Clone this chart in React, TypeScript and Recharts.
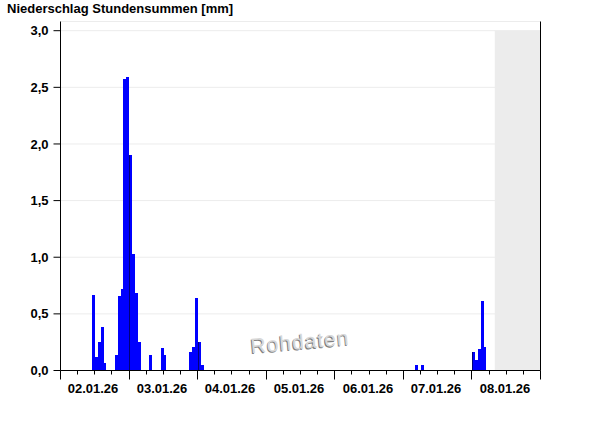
import React from "react";
import {
  BarChart,
  Bar,
  XAxis,
  YAxis,
  CartesianGrid,
  ReferenceArea,
} from "recharts";

const dayLabels = [
  "02.01.26",
  "03.01.26",
  "04.01.26",
  "05.01.26",
  "06.01.26",
  "07.01.26",
  "08.01.26",
];

// hours since 02.01.26 00:00 that had rain, and the hourly sums in mm
const rainHours = [
  11, 12, 13, 14, 15, 19, 20, 21, 22, 23, 24, 25, 26, 27, 31, 35, 36, 45, 46,
  47, 48, 49, 124, 126, 144, 145, 146, 147, 148,
];
const rainMm = [
  0.67, 0.12, 0.25, 0.38, 0.07, 0.14, 0.66, 0.72, 2.57, 2.59, 1.9, 1.03, 0.68,
  0.25, 0.14, 0.2, 0.14, 0.16, 0.21, 0.64, 0.25, 0.05, 0.05, 0.05, 0.16, 0.09,
  0.19, 0.61, 0.21,
];

const yTicks = [0, 0.5, 1, 1.5, 2, 2.5, 3];
const noDataFrom = 152; // grey block: no data yet

const HOURS = dayLabels.length * 24;
const LEFT = 60.5;
const RIGHT = 540.5;
const TOP = 21.5;
const AXIS_Y = 370.5;
const BW = (RIGHT - LEFT) / HOURS;
const Y_MAX = 3 + (30.7 - TOP) / ((AXIS_Y - 30.7) / 3);

const data = Array.from({ length: HOURS }, (_, h) => {
  const i = rainHours.indexOf(h);
  return { h, mm: i >= 0 ? rainMm[i] : 0 };
});

const tickHours = [
  ...Array.from({ length: HOURS / 6 }, (_, i) => i * 6),
  HOURS - 1,
];

const font = '"Liberation Sans", Arial, sans-serif';

function HourTick(props: any) {
  const { x, y, payload } = props;
  const h = payload.value as number;
  const last = h === HOURS - 1;
  const boundary = last ? HOURS : h;
  const xb = Math.floor(last ? x + BW / 2 : x - BW / 2) + 0.5;
  const long = boundary % 24 === 0;
  return (
    <g>
      <line x1={xb} x2={xb} y1={y} y2={y + (long ? 9 : 4)} stroke="#000" />
      {boundary % 24 === 12 && (
        <text
          x={xb - 1.5}
          y={y + 22}
          textAnchor="middle"
          fontSize={13}
          fontWeight="bold"
          fontFamily={font}
          fill="#000"
        >
          {dayLabels[Math.floor(boundary / 24)]}
        </text>
      )}
    </g>
  );
}

// snap bars to whole pixels so neighbouring hours touch without seams
function RainBar(props: any) {
  const { x, y, width, height, index } = props;
  if (!height) return null;
  const x0 = Math.round(x);
  const x1 = Math.round(x + width);
  const y0 = Math.round(y);
  const yb = Math.round(y + height);
  return (
    <g shapeRendering="crispEdges">
      <rect x={x0} y={y0} width={x1 - x0} height={yb - y0} fill="#0000ff" />
      {index % 24 === 0 && (
        <rect x={x0} y={y0} width={1} height={yb - y0} fill="#00007a" />
      )}
    </g>
  );
}

export default function App() {
  return (
    <div
      style={{
        position: "absolute",
        left: 0,
        top: 0,
        width: 600,
        height: 426,
        background: "#fff",
        fontFamily: font,
      }}
    >
      <div
        style={{
          position: "absolute",
          left: 7,
          top: 1,
          fontSize: 13,
          lineHeight: "16px",
          fontWeight: "bold",
          color: "#000",
        }}
      >
        Niederschlag Stundensummen [mm]
      </div>
      <BarChart
        width={600}
        height={426}
        data={data}
        barCategoryGap={0}
        barGap={0}
        margin={{ top: TOP, right: 600 - RIGHT - 1, left: 0, bottom: 426 - AXIS_Y - 30 }}
      >
        <CartesianGrid vertical={false} stroke="#ececec" />
        <ReferenceArea
          x1={noDataFrom}
          x2={HOURS - 1}
          y1={0}
          y2={3}
          fill="#ececec"
          fillOpacity={1}
          stroke="none"
        />
        <XAxis
          dataKey="h"
          ticks={tickHours}
          interval={0}
          tickSize={0}
          tickMargin={0}
          height={30}
          tickLine={false}
          axisLine={{ stroke: "#000" }}
          tick={<HourTick />}
        />
        <YAxis
          domain={[0, Y_MAX]}
          ticks={yTicks}
          width={LEFT}
          tickSize={7}
          tickMargin={5}
          tickFormatter={(v: number) => v.toFixed(1).replace(".", ",")}
          tick={{ fontSize: 13, fontWeight: "bold", fill: "#000", fontFamily: font }}
          tickLine={{ stroke: "#000" }}
          axisLine={{ stroke: "#000" }}
        />
        <YAxis
          yAxisId="r"
          orientation="right"
          width={1}
          tick={false}
          tickLine={false}
          axisLine={{ stroke: "#000" }}
        />
        <Bar dataKey="mm" shape={<RainBar />} isAnimationActive={false} />
      </BarChart>
      <div
        style={{
          position: "absolute",
          left: 300,
          top: 342,
          transform: "translate(-50%, -50%) rotate(-5deg)",
          fontSize: 21,
          letterSpacing: 1,
          color: "#d8d8d8",
          textShadow: "-1px 1px 0 #808080",
          whiteSpace: "nowrap",
        }}
      >
        Rohdaten
      </div>
    </div>
  );
}
